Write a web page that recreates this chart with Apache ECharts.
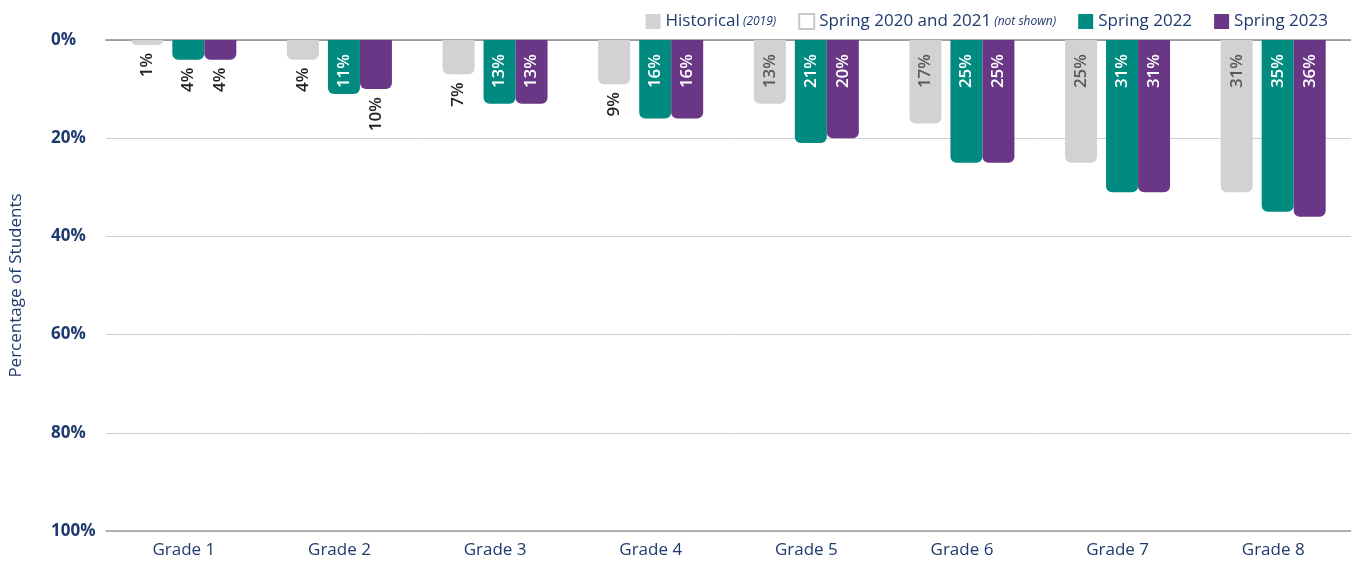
<!DOCTYPE html>
<html>
<head>
	<meta charset="UTF-8">
	<title>Percentage of Students</title>
	<script src="https://cdn.jsdelivr.net/npm/echarts@6/dist/echarts.min.js"></script>
	<style type="text/css">
		html, body { margin: 0; padding: 0; background: #fff; }
		#chart { width: 1351px; height: 563px; }
	</style>
</head>
<body>
	<div id="chart"></div>
	<script type="text/javascript">
		var grades = ["Grade 1", "Grade 2", "Grade 3", "Grade 4", "Grade 5", "Grade 6", "Grade 7", "Grade 8"];
		var historical = [1, 4, 7, 9, 13, 17, 25, 31];
		var spring2022 = [4, 11, 13, 16, 21, 25, 31, 35];
		var spring2023 = [4, 10, 13, 16, 20, 25, 31, 36];
		var yTicks = [0, 20, 40, 60, 80, 100];

		var navy = "#1f3a6e";
		var font = "Open Sans";

		// small values get their label below the bar
		function toItems(values) {
			return values.map(function(v) {
				if(v <= 10) {
					return {
						value: v,
						label: { position: "bottom", distance: 8, color: "#231f20" }
					};
				}
				return v;
			});
		}

		function barSeries(name, values, color, labelColor) {
			return {
				name: name,
				type: "bar",
				barWidth: 32,
				barGap: "0%",
				data: toItems(values),
				itemStyle: { color: color, borderRadius: [0, 0, 6, 6] },
				label: {
					show: true,
					position: "insideTop",
					distance: 14,
					rotate: 90,
					align: "right",
					verticalAlign: "middle",
					formatter: "{c}%",
					fontFamily: font,
					fontSize: 17,
					fontWeight: 600,
					color: labelColor
				}
			};
		}

		var chart = echarts.init(document.getElementById("chart"));
		var option = {
			animation: false,
			textStyle: { fontFamily: font },
			legend: {
				right: 18,
				top: 8,
				itemWidth: 15,
				itemHeight: 15,
				itemGap: 22,
				itemTextGap: 8,
				icon: "rect",
				formatter: function(name) {
					if(name == "Historical") return "{n|Historical} {s|(2019)}";
					if(name == "Spring 2020 and 2021") return "{n|Spring 2020 and 2021} {s|(not shown)}";
					return "{n|" + name + "}";
				},
				textStyle: {
					rich: {
						n: { fontFamily: font, fontSize: 17, color: navy },
						s: { fontFamily: font, fontSize: 12, fontStyle: "italic", color: navy }
					}
				}
			},
			grid: { left: 100, top: 40, width: 1253, bottom: 32 },
			xAxis: [{
				type: "category",
				data: grades,
				position: "bottom",
				axisLine: { onZero: false, lineStyle: { color: "#a0a0a0", width: 1.5 } },
				axisTick: { show: false },
				axisLabel: { color: navy, fontSize: 17, fontFamily: font, margin: 11 }
			}, {
				type: "category",
				data: grades,
				position: "top",
				axisLine: { onZero: false, lineStyle: { color: "#8a8a8a", width: 1.5 } },
				axisTick: { show: false },
				axisLabel: { show: false }
			}],
			yAxis: {
				type: "value",
				inverse: true,
				min: yTicks[0],
				max: yTicks[yTicks.length - 1],
				interval: 20,
				name: "Percentage of Students",
				nameLocation: "middle",
				nameRotate: 90,
				nameGap: 81,
				nameTextStyle: { color: navy, fontSize: 17, fontFamily: font },
				axisLine: { show: false },
				axisTick: { show: false },
				axisLabel: {
					formatter: "{value}%",
					align: "left",
					margin: 55,
					color: navy,
					fontSize: 17,
					fontWeight: "bold",
					fontFamily: font
				},
				splitLine: { lineStyle: { color: "#cfcfcf", width: 1 } }
			},
			series: [
				barSeries("Historical", historical, "#d1d2d4", "#58595b"),
				{
					name: "Spring 2020 and 2021",
					type: "bar",
					barWidth: 9,
					barGap: "0%",
					data: grades.map(function() { return null; }),
					itemStyle: { color: "#ffffff", borderColor: "#c8c8c8", borderWidth: 1 }
				},
				barSeries("Spring 2022", spring2022, "#008a80", "#ffffff"),
				barSeries("Spring 2023", spring2023, "#6a3787", "#ffffff")
			]
		};
		chart.setOption(option);
	</script>
</body>
</html>
